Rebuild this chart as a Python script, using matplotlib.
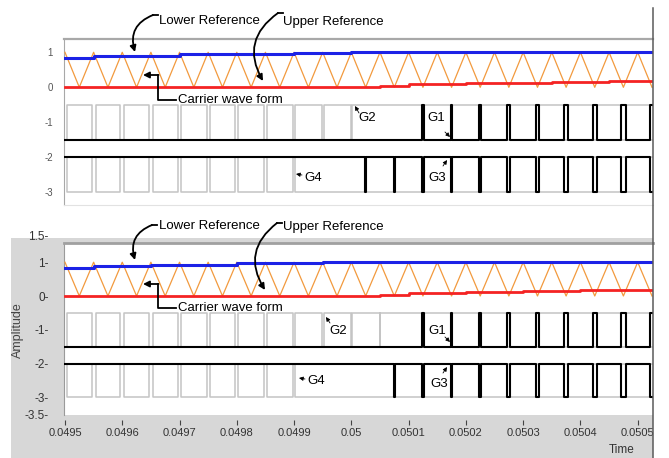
import numpy as np
import matplotlib
matplotlib.use('Agg')
import matplotlib.pyplot as plt
import matplotlib.transforms as mtransforms
from matplotlib.lines import Line2D
from matplotlib.patches import Rectangle, FancyArrowPatch

plt.rcParams['font.family'] = ['Liberation Sans', 'DejaVu Sans']

# ---- data ----
t_start = 0.0495
carrier_period = 0.00005          # 20 kHz triangle
# triangle vertices every half period (peak, trough, ...)
carrier = [1, 0, 1, 0, 1, 0, 1, 0, 1, 0, 1, 0, 1, 0, 1, 0, 1, 0, 1, 0, 1,
           0, 1, 0, 1, 0, 1, 0, 1, 0, 1, 0, 1, 0, 1, 0, 1, 0, 1, 0, 1, 0]

# sampled references, one value per carrier period
top_lower_ref = [0.84, 0.89, 0.89, 0.89, 0.94, 0.94, 0.94, 0.94, 0.98, 0.98, 1.0,
                 1.0, 1.0, 1.0, 1.0, 1.0, 1.0, 1.0, 1.0, 1.0, 1.0]
top_upper_ref = [0, 0, 0, 0, 0, 0, 0, 0, 0, 0, 0,
                 0.04, 0.08, 0.08, 0.12, 0.12, 0.12, 0.15, 0.15, 0.18, 0.18]
bot_lower_ref = [0.84, 0.88, 0.88, 0.92, 0.92, 0.92, 0.98, 0.98, 0.98, 1.0, 1.0,
                 1.0, 1.0, 1.0, 1.0, 1.0, 1.0, 1.0, 1.0, 1.0, 1.0]
bot_upper_ref = [0, 0, 0, 0, 0, 0, 0, 0, 0, 0, 0,
                 0.04, 0.08, 0.08, 0.11, 0.11, 0.15, 0.15, 0.18, 0.18, 0.18]

# gate pulse widths in microseconds
top_g2_notch = [8, 7, 7, 6, 6, 5, 5, 5, 4, 4, 2]        # at carrier peaks 0..10
bot_g2_notch = [8, 7, 7, 6, 6, 5, 5, 4, 4, 3, 2, 1.5]   # at carrier peaks 0..11
g4_pulse = [8, 7, 7, 6, 6, 5, 5, 5, 4]                  # at carrier peaks 0..8
g1_pulse = [2, 3, 4, 5, 5.5, 6, 7, 8, 8.5]              # troughs from no. 12
top_g3_notch = [1.5, 2, 2, 3, 4, 5, 5.5, 6, 7, 8, 8.5]  # troughs from no. 10
bot_g3_notch = [2, 2, 3, 4, 5, 5.5, 6, 7, 8, 8.5]       # troughs from no. 11

x_ticks = [0.0495, 0.0496, 0.0497, 0.0498, 0.0499, 0.05,
           0.0501, 0.0502, 0.0503, 0.0504, 0.0505]
x_labels = ['0.0495', '0.0496', '0.0497', '0.0498', '0.0499', '0.05',
            '0.0501', '0.0502', '0.0503', '0.0504', '0.0505']
top_yticks = [1, 0, -1, -2, -3]
bot_yticks = [1.5, 1, 0, -1, -2, -3, -3.5]
bot_ylabels = ['1.5-', '1-', '0-', '-1-', '-2-', '-3-', '-3.5-']

W, H = 669, 458
xmin, xmax = 0.0494983, 0.0505267
BLUE, RED, ORANGE, GRAY = '#1c22e6', '#f42323', '#f29a3e', '#c4c4c4'


def gate(times, widths, base, level):
    xs, ys = [t_start - carrier_period], [base]
    for c, w in sorted(zip(times, widths)):
        a, b = c - w * 1e-6 / 2, c + w * 1e-6 / 2
        xs += [a, a, b, b]
        ys += [base, level, level, base]
    xs.append(xmax + carrier_period)
    ys.append(base)
    return xs, ys


def draw_panel(ax, lower_ref, upper_ref, g2_notch, g3_notch, g3_first):
    tc = t_start + np.arange(len(carrier)) * carrier_period / 2
    ax.plot(tc, carrier, color=ORANGE, lw=0.9, zorder=3)
    tr = t_start + np.arange(len(lower_ref) + 1) * carrier_period
    ax.step(tr, lower_ref + lower_ref[-1:], where='post', color=BLUE, lw=2.2, zorder=4)
    ax.step(tr, upper_ref + upper_ref[-1:], where='post', color=RED, lw=2.0, zorder=4)

    g2_peaks = list(t_start + np.arange(len(g2_notch)) * carrier_period)
    g4_peaks = list(t_start + np.arange(len(g4_pulse)) * carrier_period)
    g1_t = list(t_start + (12.5 + np.arange(len(g1_pulse))) * carrier_period)
    g3_t = list(t_start + (g3_first + 0.5 + np.arange(len(g3_notch))) * carrier_period)

    ax.plot(*gate(g2_peaks + g1_t, g2_notch + g1_pulse, -0.5, -1.5), color=GRAY, lw=1.1, zorder=2)
    ax.plot(*gate(g4_peaks + g3_t, g4_pulse + g3_notch, -3, -2), color=GRAY, lw=1.1, zorder=2)
    ax.plot(*gate(g1_t, g1_pulse, -1.5, -0.5), color='black', lw=1.5, zorder=5)
    ax.plot(*gate(g3_t, g3_notch, -2, -3), color='black', lw=1.5, zorder=5)
    ax.set_xlim(xmin, xmax)


fig = plt.figure(figsize=(W / 100, H / 100), dpi=100)
fig.patch.set_facecolor('white')

# grey front panel behind the lower graph
fig.add_artist(Rectangle((11 / W, 0), 642 / W, 220 / H, transform=fig.transFigure,
                         facecolor='#d7d7d7', edgecolor='none', zorder=-1))

ax1 = fig.add_axes([64 / W, (H - 205) / H, 589 / W, 166 / H])
ax2 = fig.add_axes([64 / W, (H - 415) / H, 589 / W, 172 / H])

draw_panel(ax1, top_lower_ref, top_upper_ref, top_g2_notch, top_g3_notch, 10)
draw_panel(ax2, bot_lower_ref, bot_upper_ref, bot_g2_notch, bot_g3_notch, 11)

# top graph styling
ax1.set_ylim(-3.363, 1.38)
ax1.set_xticks([])
ax1.set_yticks(top_yticks)
ax1.set_yticklabels([str(v) for v in top_yticks])
ax1.tick_params(axis='y', length=0, pad=8, labelsize=7, labelcolor='#555555')
ax1.spines['right'].set_visible(False)
ax1.spines['top'].set_color('#a8a8a8')
ax1.spines['top'].set_linewidth(1.6)
ax1.spines['left'].set_color('#a8a8a8')
ax1.spines['bottom'].set_color('#e2e2e2')

# bottom graph styling
ax2.set_ylim(-3.52, 1.568)
ax2.set_yticks(bot_yticks)
ax2.set_yticklabels(bot_ylabels)
ax2.tick_params(axis='y', length=0, pad=11, labelsize=8.5, labelcolor='#333333')
top_lab = ax2.get_yticklabels()[0]
top_lab.set_transform(top_lab.get_transform() +
                      mtransforms.ScaledTranslation(0, 0.1, fig.dpi_scale_trans))
ax2.set_xticks(x_ticks)
ax2.set_xticklabels(x_labels)
ax2.spines['bottom'].set_position(('outward', 3.5))
ax2.spines['bottom'].set_visible(False)
ax2.spines['right'].set_visible(False)
ax2.spines['top'].set_color('#a0a0a0')
ax2.spines['top'].set_linewidth(2)
ax2.spines['left'].set_color('#9a9a9a')
ax2.tick_params(axis='x', direction='out', length=3.5, width=0.8, color='#444444',
                pad=2, labelsize=8, labelcolor='#333333')
fig.text(18 / W, (H - 330) / H, 'Amplitude', rotation=90, ha='center', va='center',
         fontsize=9, color='#444444')
fig.text(622 / W, (H - 450) / H, 'Time', ha='center', va='center', fontsize=8.5, color='#333333')

# right border of the screenshot
fig.add_artist(Line2D([653 / W, 653 / W], [0, (H - 8) / H], transform=fig.transFigure,
                      color='#5a5a5a', lw=1.1, zorder=6))


def fp(x, y):
    # screen pixel (y down) -> figure fraction
    return (x / W, (H - y) / H)


def arrow(tail, tip, rad=0.0, lw=1.3, size=9):
    fig.add_artist(FancyArrowPatch(fp(*tail), fp(*tip), transform=fig.transFigure,
                                   arrowstyle='-|>', connectionstyle='arc3,rad=%g' % rad,
                                   color='black', lw=lw, mutation_scale=size,
                                   shrinkA=0, shrinkB=0, zorder=7))


def line(xs, ys):
    fig.add_artist(Line2D([x / W for x in xs], [(H - y) / H for y in ys],
                          transform=fig.transFigure, color='black', lw=1.3, zorder=7))


def label_set(dy, lower_hook, upper_hook, carrier_y, carrier_arrow_y, g_marks):
    fig.text(*fp(159, 21 + dy), 'Lower Reference', fontsize=9.5, va='center')
    fig.text(*fp(283, 22 + dy), 'Upper Reference', fontsize=9.5, va='center')
    for (sx, sy), tip in (lower_hook, upper_hook):
        line([sx + 5, sx], [sy, sy])
        arrow((sx, sy), tip, rad=0.45)
    fig.text(*fp(178, carrier_y), 'Carrier wave form', fontsize=9.5, va='center')
    line([176, 158, 158], [carrier_y, carrier_y, carrier_arrow_y])
    arrow((158.5, carrier_arrow_y), (143, carrier_arrow_y))
    for name, (lx, ly), tip, tail in g_marks:
        fig.text(*fp(lx, ly), name, fontsize=9.5, va='center')
        arrow(tail, tip, lw=0.6, size=6)


label_set(0, ((153, 15), (135, 52)), ((278, 13), (263, 81)), 100, 75,
          [('G2', (358, 118), (355, 106), (359, 113)),
           ('G1', (427, 118), (450, 137), (445, 132)),
           ('G4', (304, 178), (296, 174), (302, 175)),
           ('G3', (428, 178), (447, 160), (443, 166))])
label_set(205, ((152, 225), (135, 260)), ((277, 223), (265, 290)), 308, 284,
          [('G2', (329, 331), (326, 317), (330, 323)),
           ('G1', (428, 331), (450, 342), (445, 337)),
           ('G4', (307, 381), (299, 378), (305, 379)),
           ('G3', (430, 384), (447, 367), (443, 373))])

fig.savefig('out.png', dpi=100)
